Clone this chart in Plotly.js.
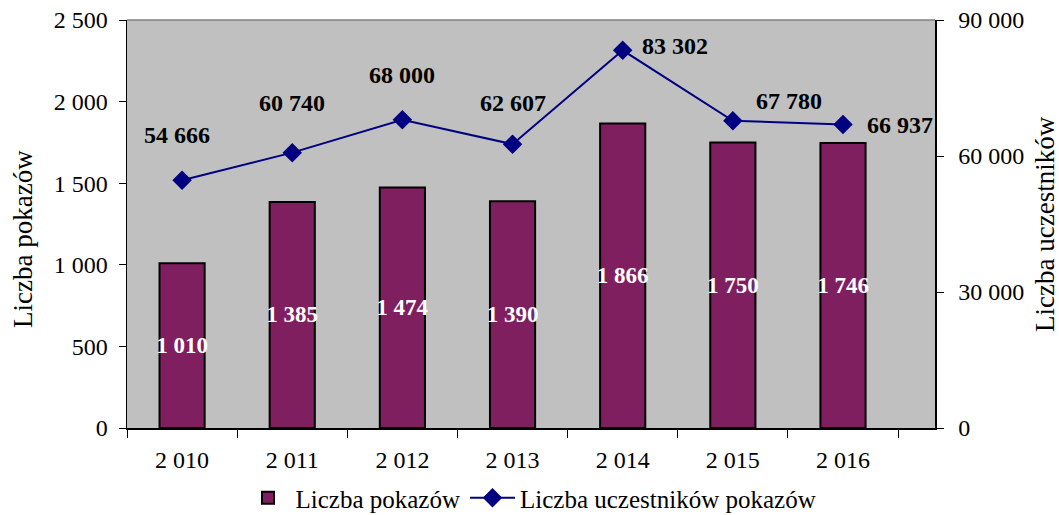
<!DOCTYPE html>
<html><head><meta charset="utf-8">
<script src="https://cdn.plot.ly/plotly-3.0.1.min.js"></script>
<style>body{margin:0;background:#fff}#c{width:1059px;height:515px}</style>
</head><body><div id="c"></div>
<script>
var years = ['2 010','2 011','2 012','2 013','2 014','2 015','2 016'];
var shows = [1010, 1385, 1474, 1390, 1866, 1750, 1746];
var participants = [54666, 60740, 68000, 62607, 83302, 67780, 66937];
var labelOffsetX = [-5, 0, 0, 0, 52, 56, 57];
var labelOffsetY = [45, 50, 45, 41, 4, 20, 0];

function fmt(n){ return String(n).replace(/\B(?=(\d{3})+(?!\d))/g,' '); }

var font = 'Liberation Serif, Times New Roman, serif';
var traces = [
 {type:'bar', x:years, y:shows, name:'Liczba pokazów',
  marker:{color:'#7f1f5f', line:{color:'#000', width:2}},
  texttemplate:'%{y:,d}', textposition:'inside', insidetextanchor:'middle',
  constraintext:'none', textangle:0,
  insidetextfont:{family:font, size:23, color:'#fff', weight:'bold'},
  hoverinfo:'skip'},
 {type:'scatter', mode:'lines+markers', x:years, y:participants, yaxis:'y2',
  name:'Liczba uczestników pokazów',
  line:{color:'#000080', width:2}, marker:{symbol:'diamond', size:15, color:'#000080'},
  hoverinfo:'skip'}
];
var ann = participants.map(function(v,i){
  return {x:years[i], y:v, xref:'x', yref:'y2', text:'<b>'+fmt(v)+'</b>', showarrow:false,
    xshift:labelOffsetX[i], yshift:labelOffsetY[i], font:{family:font, size:24, color:'#000'}};
});
ann.push({xref:'paper', yref:'paper', x:-127/808, y:(428-239)/408, xanchor:'center', yanchor:'middle',
  xshift:23, text:'Liczba pokazów', textangle:-90, showarrow:false, font:{family:font, size:27, color:'#000'}});
ann.push({xref:'paper', yref:'paper', x:1, y:0.5, xanchor:'center', yanchor:'middle',
  xshift:110, text:'Liczba uczestników', textangle:-90, showarrow:false, font:{family:font, size:27, color:'#000'}});
var layout = {
  width:1059, height:515, margin:{l:127, r:124, t:20, b:87},
  paper_bgcolor:'#fff', plot_bgcolor:'#c0c0c0',
  separators:', ', bargap:0.59, showlegend:true,
  font:{family:font, size:24, color:'#000'},
  xaxis:{type:'category', tickson:'boundaries', ticks:'outside', ticklen:8, tickcolor:'#000',
    showline:true, linecolor:'#000', linewidth:1.5, showgrid:false, zeroline:false, automargin:false,
    ticklabelstandoff:10, tickfont:{family:font, size:24}},
  yaxis:{range:[0,2500], dtick:500, tickformat:',d', ticks:'outside', ticklen:7, tickcolor:'#000',
    showline:true, linecolor:'#000', linewidth:1.5, showgrid:false, zeroline:false, automargin:false,
    ticklabelstandoff:6, tickfont:{family:font, size:24}},
  yaxis2:{range:[0,90000], dtick:30000, tickformat:',d', overlaying:'y', side:'right',
    ticks:'outside', ticklen:7, tickcolor:'#000', showline:true, linecolor:'#000', linewidth:1.5,
    showgrid:false, zeroline:false, automargin:false, ticklabelstandoff:10,
    tickfont:{family:font, size:24}},
  legend:{orientation:'h', x:0.5, xref:'paper', xanchor:'center', yref:'container', y:0.033, yanchor:'middle',
    itemwidth:45, tracegroupgap:0, font:{family:font, size:25}, bgcolor:'rgba(0,0,0,0)'},
  shapes:[{type:'line', xref:'paper', yref:'paper', x0:0, x1:1, y0:1, y1:1,
    line:{color:'#808080', width:1.5}}],
  annotations:ann
};
Plotly.newPlot('c', traces, layout, {staticPlot:true});
</script></body></html>
